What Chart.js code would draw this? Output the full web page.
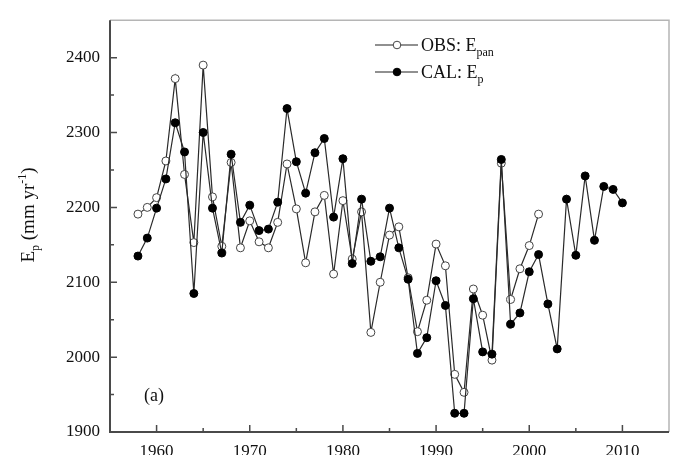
<!DOCTYPE html>
<html><head><meta charset="utf-8">
<script src="https://cdn.jsdelivr.net/npm/chart.js@4/dist/chart.umd.min.js"></script>
<style>html,body{margin:0;padding:0;background:#fff;}#wrap{width:675px;height:455px;}</style>
</head><body><div id="wrap"><canvas id="c" width="675" height="455"></canvas></div>
<script>
const years = [1958,1959,1960,1961,1962,1963,1964,1965,1966,1967,1968,1969,1970,1971,1972,1973,1974,1975,1976,1977,1978,1979,1980,1981,1982,1983,1984,1985,1986,1987,1988,1989,1990,1991,1992,1993,1994,1995,1996,1997,1998,1999,2000,2001,2002,2003,2004,2005,2006,2007,2008,2009,2010];
const obsValues = [2191,2200,2213,2262,2372,2244,2153,2390,2214,2148,2260,2146,2182,2154,2146,2180,2258,2198,2126,2194,2216,2111,2209,2131,2194,2033,2100,2163,2174,2106,2034,2076,2151,2122,1977,1953,2091,2056,1996,2259,2077,2118,2149,2191,null,null,null,null,null,null,null,null,null];
const calValues = [2135,2159,2199,2238,2313,2274,2085,2300,2199,2139,2271,2180,2203,2169,2171,2207,2332,2261,2219,2273,2292,2187,2265,2125,2211,2128,2134,2199,2146,2104,2005,2026,2102,2069,1925,1925,2078,2007,2004,2264,2044,2059,2114,2137,2071,2011,2211,2136,2242,2156,2228,2224,2206];
const xTickValues = [1960,1970,1980,1990,2000,2010];
const xMinorTickValues = [1965,1975,1985,1995,2005];
const yTickValues = [1900,2000,2100,2200,2300,2400];
const yMinorTickValues = [1950,2050,2150,2250,2350];
const seriesNames = ['OBS: E', 'CAL: E'];
const seriesSubs = ['pan', 'p'];
const panelLabel = '(a)';

const FAM = "'Liberation Serif','Times New Roman',serif";

function drawRich(ctx, parts, x, y, align) {
  let total = 0;
  parts.forEach(p => { ctx.font = p.size + 'px ' + FAM; p.w = ctx.measureText(p.t).width; total += p.w; });
  let cx = align === 'center' ? x - total / 2 : x;
  ctx.textAlign = 'left';
  ctx.textBaseline = 'alphabetic';
  parts.forEach(p => { ctx.font = p.size + 'px ' + FAM; ctx.fillText(p.t, cx, y + (p.dy || 0)); cx += p.w; });
}

const decor = {
  id: 'decor',
  beforeDatasetsDraw(chart) {
    const { ctx, chartArea: a, scales: { x, y } } = chart;
    ctx.save();
    ctx.strokeStyle = '#b5b5b5'; ctx.lineWidth = 1.5;
    ctx.beginPath(); ctx.moveTo(a.left, a.top); ctx.lineTo(a.right, a.top); ctx.lineTo(a.right, a.bottom); ctx.stroke();
    ctx.strokeStyle = '#4a4a4a'; ctx.lineWidth = 2;
    ctx.beginPath(); ctx.moveTo(a.left, a.top); ctx.lineTo(a.left, a.bottom); ctx.lineTo(a.right, a.bottom); ctx.stroke();
    ctx.lineWidth = 1.5;
    ctx.beginPath();
    xTickValues.forEach(v => { const p = x.getPixelForValue(v); ctx.moveTo(p, a.bottom); ctx.lineTo(p, a.bottom - 7); });
    xMinorTickValues.forEach(v => { const p = x.getPixelForValue(v); ctx.moveTo(p, a.bottom); ctx.lineTo(p, a.bottom - 4); });
    yTickValues.forEach(v => { const p = y.getPixelForValue(v); ctx.moveTo(a.left, p); ctx.lineTo(a.left + 7, p); });
    yMinorTickValues.forEach(v => { const p = y.getPixelForValue(v); ctx.moveTo(a.left, p); ctx.lineTo(a.left + 4, p); });
    ctx.stroke();
    ctx.restore();
  },
  afterDraw(chart) {
    const { ctx } = chart;
    ctx.save();
    ctx.fillStyle = '#111';
    // y-axis title
    ctx.translate(34, 215);
    ctx.rotate(-Math.PI / 2);
    drawRich(ctx, [
      { t: 'E', size: 19 }, { t: 'p', size: 12, dy: 5 }, { t: ' (mm yr', size: 19 },
      { t: '-1', size: 12, dy: -8 }, { t: ')', size: 19 }
    ], 0, 0, 'center');
    ctx.restore();
    // legend
    ctx.save();
    const rows = [45, 72];
    rows.forEach((ry, i) => {
      ctx.strokeStyle = '#222'; ctx.lineWidth = 1.2;
      ctx.beginPath(); ctx.moveTo(375, ry); ctx.lineTo(418, ry); ctx.stroke();
      ctx.beginPath(); ctx.arc(397, ry, 3.8, 0, Math.PI * 2);
      ctx.fillStyle = i === 0 ? '#fff' : '#000'; ctx.fill();
      ctx.strokeStyle = i === 0 ? '#444' : '#000'; ctx.lineWidth = 1; ctx.stroke();
      ctx.fillStyle = '#111';
      drawRich(ctx, [{ t: seriesNames[i], size: 18 }, { t: seriesSubs[i], size: 12, dy: 5 }], 421, ry + 5.5, 'left');
    });
    ctx.font = '18px ' + FAM;
    ctx.fillStyle = '#111';
    ctx.textAlign = 'center'; ctx.textBaseline = 'middle';
    ctx.fillText(panelLabel, 154, 396);
    ctx.restore();
  }
};

new Chart(document.getElementById('c'), {
  type: 'line',
  data: {
    datasets: [
      {
        label: 'OBS', order: 2,
        data: years.map((yr, i) => ({ x: yr, y: obsValues[i] })),
        borderColor: '#2a2a2a', borderWidth: 1.2,
        pointRadius: 4, pointBorderWidth: 1, pointBackgroundColor: '#fff', pointBorderColor: '#444',
        tension: 0, fill: false
      },
      {
        label: 'CAL', order: 1,
        data: years.map((yr, i) => ({ x: yr, y: calValues[i] })),
        borderColor: '#2a2a2a', borderWidth: 1.2,
        pointRadius: 4, pointBorderWidth: 1, pointBackgroundColor: '#000', pointBorderColor: '#000',
        tension: 0, fill: false
      }
    ]
  },
  options: {
    responsive: false, animation: false, devicePixelRatio: 1,
    layout: { padding: { top: 12, right: 6, left: 0, bottom: 0 } },
    plugins: { legend: { display: false }, tooltip: { enabled: false } },
    scales: {
      x: {
        type: 'linear', min: 1955, max: 2015,
        grid: { display: false, drawTicks: false }, border: { display: false },
        afterBuildTicks: s => { s.ticks = xTickValues.map(v => ({ value: v })); },
        afterFit: s => { s.height = 23; },
        ticks: { font: { family: FAM, size: 17 }, color: '#111', padding: 9, maxRotation: 0, autoSkip: false, callback: v => String(v) }
      },
      y: {
        type: 'linear', min: 1900, max: 2450,
        grid: { display: false, drawTicks: false }, border: { display: false },
        afterBuildTicks: s => { s.ticks = yTickValues.map(v => ({ value: v })); },
        afterFit: s => { s.width = 110; },
        ticks: { font: { family: FAM, size: 17 }, color: '#111', padding: 10, autoSkip: false, callback: v => String(v) }
      }
    }
  },
  plugins: [decor]
});
</script></body></html>
